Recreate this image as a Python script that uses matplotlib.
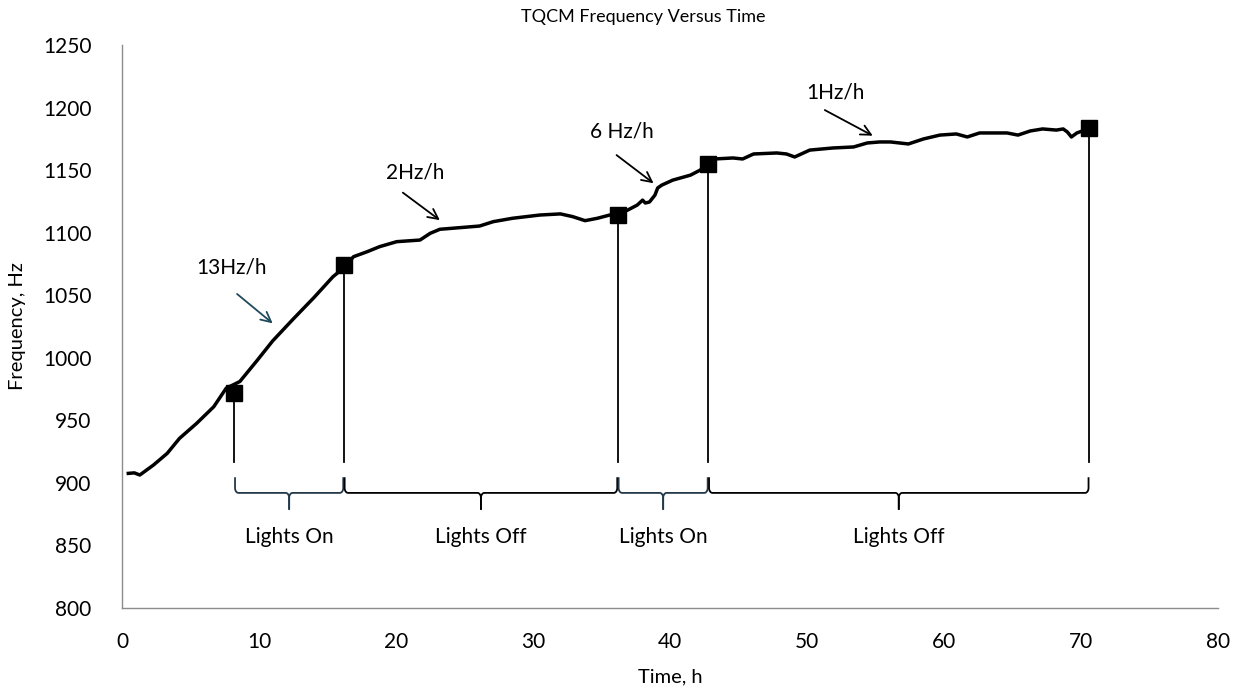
import numpy as np
import matplotlib
matplotlib.use("Agg")
import matplotlib.pyplot as plt

plt.rcParams['font.family'] = ['Lato', 'DejaVu Sans']

# ---- data ----
time_h = [0.46, 0.9, 1.3, 2.3, 3.3, 4.2, 5.45, 6.7, 7.6, 8.6, 9.8, 11, 12.5, 14, 15.4, 16.2,
          16.9, 17.9, 18.8, 20.05, 21.75, 22.5, 23.2, 26.1, 27.1, 28.5, 30.5, 32, 32.9,
          33.8, 34.7, 35.6, 36.2, 36.9, 37.6, 38, 38.2, 38.5, 38.9, 39.1, 39.4, 40.2,
          41.5, 42.2, 42.8, 43.4, 44.6, 45.3, 46.1, 47.8, 48.5, 49.1, 50.2, 51.9, 53.4,
          54.4, 55.3, 56.1, 57.4, 58.5, 59.7, 60.9, 61.7, 62.6, 64.6, 65.4, 66.3, 67.2,
          68.2, 68.7, 69.0, 69.3, 69.7, 70.1, 70.6]
freq_hz = [907.6, 908.0, 906.3, 914.3, 923.6, 935.6, 947.6, 960.9, 975.6, 981.0, 997.0,
           1013.5, 1031.0, 1048.0, 1064.8, 1072, 1080.8, 1084.8, 1088.8, 1092.8, 1094.1,
           1099.5, 1102.7, 1105.3, 1108.8, 1111.5, 1114.1, 1115, 1112.8, 1109.6, 1111.5,
           1114.1, 1115.5, 1118, 1122, 1126, 1123.7, 1124.5, 1130, 1135.7, 1138, 1142,
           1146, 1150, 1155, 1159.0, 1159.7, 1158.9, 1162.9, 1163.7, 1162.9, 1160.5,
           1166, 1167.7, 1168.5, 1171.7, 1172.5, 1172.5, 1170.9, 1174.9, 1178, 1178.9,
           1176.5, 1179.7, 1179.7, 1178, 1181.3, 1182.9, 1182, 1182.9, 1180.5, 1176.5,
           1179.7, 1181.3, 1183]

marker_t = [8.2, 16.2, 36.2, 42.8, 70.6]
marker_f = [971.6, 1074, 1114, 1155, 1184]

period_start = [8.2, 16.2, 36.2, 42.8]
period_end = [16.2, 36.2, 42.8, 70.6]
period_labels = ["Lights On", "Lights Off", "Lights On", "Lights Off"]

rate_labels = ["13Hz/h", "2Hz/h", "6 Hz/h", "1Hz/h"]
rate_text_xy = [(8.0, 1072), (21.4, 1148), (36.5, 1181), (52.1, 1212)]
rate_arrow_from = [(8.4, 1051), (20.5, 1132), (36.1, 1162), (51.3, 1198)]
rate_arrow_to = [(11.0, 1027.5), (23.2, 1110), (38.8, 1139.5), (54.8, 1177.5)]

# ---- figure ----
fig = plt.figure(figsize=(12.42, 6.88), dpi=100)
ax = fig.add_axes([122 / 1242, 1 - 608 / 688, (1218 - 122) / 1242, (608 - 45) / 688])

ax.plot(time_h, freq_hz, color='black', lw=2.5, solid_joinstyle='round', zorder=3)
ax.plot(marker_t, marker_f, ls='none', marker='s', ms=11, color='black', zorder=4)

# vertical drop lines
line_bottom = 916.5
for t, f in zip(marker_t, marker_f):
    ax.plot([t, t], [line_bottom, f], color='black', lw=1.3, zorder=2)

# curly braces
brace_colors = ['#23394a', 'black', '#23394a', 'black']
def brace(x0, x1, color):
    top, mid, tip = 904.5, 892.0, 878.5
    r = 0.25
    ry = 4.0
    xm = (x0 + x1) / 2
    th = np.linspace(0, np.pi / 2, 12)
    xs, ys = [], []
    xs += [x0, x0]; ys += [top, mid + ry]
    xs += list(x0 + r - r * np.cos(th)); ys += list(mid + ry - ry * np.sin(th))
    xs += [xm - r]; ys += [mid]
    xs += list(xm - r + r * np.sin(th)); ys += list(mid - ry + ry * np.cos(th))
    xs += [xm]; ys += [tip]
    ax.plot(xs, ys, color=color, lw=1.3, zorder=2, solid_capstyle='butt')
    xs2 = [2 * xm - x for x in xs]
    ax.plot(xs2, ys, color=color, lw=1.3, zorder=2, solid_capstyle='butt')

for s, e, c, lab in zip(period_start, period_end, brace_colors, period_labels):
    brace(s + 0.05, e - 0.05, c)
    ax.text((s + e) / 2, 857, lab, ha='center', va='center', fontsize=15)

arrow_colors = ['#1f4a5c', 'black', 'black', 'black']
for lab, txy, a0, a1, c in zip(rate_labels, rate_text_xy, rate_arrow_from,
                               rate_arrow_to, arrow_colors):
    ax.text(txy[0], txy[1], lab, ha='center', va='center', fontsize=15)
    ax.annotate('', xy=a1, xytext=a0,
                arrowprops=dict(arrowstyle='->', color=c, lw=1.3,
                                mutation_scale=18, shrinkA=0, shrinkB=0))

ax.set_xlim(0, 80)
ax.set_ylim(800, 1250)
ax.set_xticks(range(0, 81, 10))
ax.set_yticks(range(800, 1251, 50))
ax.tick_params(length=0, labelsize=15)
ax.tick_params(axis='y', pad=22)
ax.tick_params(axis='x', pad=17)
for sp in ['top', 'right']:
    ax.spines[sp].set_visible(False)
for sp in ['left', 'bottom']:
    ax.spines[sp].set_color('#8c8c8c')
    ax.spines[sp].set_linewidth(1.0)

ax.set_xlabel('Time, h', fontsize=14.5, labelpad=12)
ax.set_ylabel('Frequency, Hz', fontsize=14.5, labelpad=12)
fig.text(643 / 1242, 1 - 17 / 688, 'TQCM Frequency Versus Time', ha='center',
         va='center', fontsize=13)

fig.savefig('out.png', dpi=100)
